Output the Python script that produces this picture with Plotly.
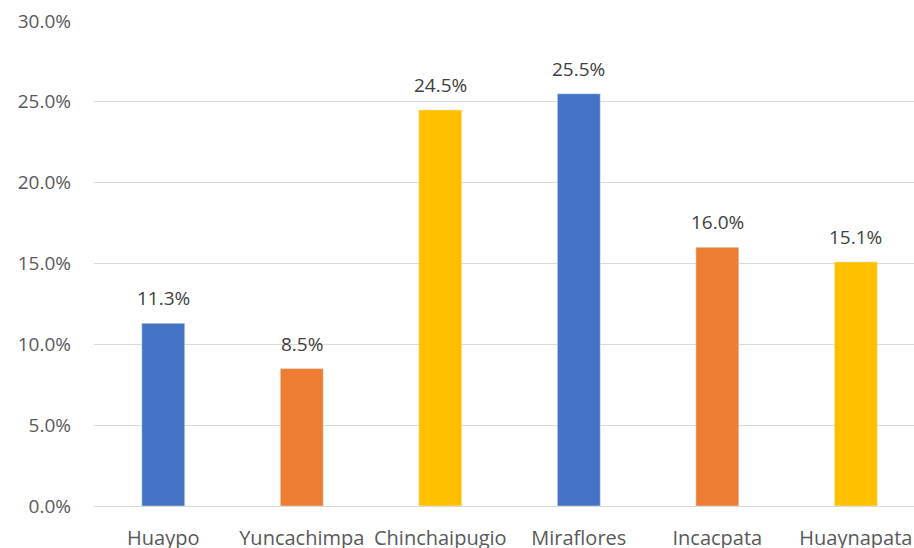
import plotly.graph_objects as go

categories = ["Huaypo", "Yuncachimpa", "Chinchaipugio", "Miraflores", "Incacpata", "Huaynapata"]
values = [0.113, 0.085, 0.245, 0.255, 0.160, 0.151]
labels = ["11.3%", "8.5%", "24.5%", "25.5%", "16.0%", "15.1%"]
colors = ["#4472C4", "#ED7D31", "#FFC000", "#4472C4", "#ED7D31", "#FFC000"]
yticks = [0, 0.05, 0.10, 0.15, 0.20, 0.25, 0.30]
ytick_text = ["0.0%", "5.0%", "10.0%", "15.0%", "20.0%", "25.0%", "30.0%"]

FONT = "Open Sans"
FS = 19

fig = go.Figure(go.Bar(
    x=categories, y=values, marker_color=colors, width=0.31,
))
for c, v, t in zip(categories, values, labels):
    fig.add_annotation(x=c, y=v, text=t, showarrow=False, yanchor="middle",
                       yshift=25, font=dict(family=FONT, size=FS, color="#404040"))
fig.update_layout(
    width=914, height=548,
    margin=dict(l=94, r=0, t=21, b=42, autoexpand=False),
    paper_bgcolor="white", plot_bgcolor="white",
    showlegend=False,
    font=dict(family=FONT, size=FS, color="#595959"),
)
fig.update_xaxes(range=[-0.5, 5.42], showgrid=False, showline=True, linecolor="#D9D9D9",
                 linewidth=1, ticks="", ticklabelstandoff=14, automargin=False,
                 tickfont=dict(family=FONT, size=20, color="#595959"))
fig.update_yaxes(range=[0, 0.30], tickvals=yticks, ticktext=ytick_text, showgrid=True,
                 gridcolor="#D9D9D9", gridwidth=1, zeroline=False, showline=False,
                 ticks="", ticklabelstandoff=22, automargin=False,
                 tickfont=dict(family=FONT, size=FS, color="#595959"))
fig.write_html("out.html", config={"displayModeBar": False},
               post_script="document.body.style.margin='0';document.body.style.overflow='hidden';")
